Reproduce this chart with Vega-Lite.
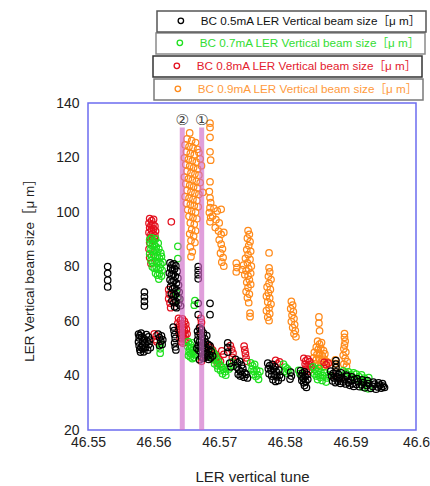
{
  "$schema": "https://vega.github.io/schema/vega-lite/v6.json",
  "width": 328,
  "height": 327,
  "autosize": {"type": "none"},
  "padding": {"left": 88, "top": 103, "right": 14, "bottom": 56},
  "background": "white",
  "config": {
    "font": "Liberation Sans, Arial, Noto Sans CJK JP",
    "view": {"stroke": "#6c6cf0", "strokeWidth": 1.5},
    "axis": {"grid": false, "domain": false, "ticks": false, "labelColor": "#222", "titleColor": "#222", "titleFontWeight": "normal", "labelFont": "Liberation Sans, Arial, Noto Sans CJK JP", "titleFont": "Liberation Sans, Arial, Noto Sans CJK JP"},
    "legend": {"title": null, "padding": 4, "symbolOffset": 14, "labelOffset": 14, "labelFontSize": 11.7, "labelFont": "Liberation Sans, Arial, Noto Sans CJK JP", "labelLimit": 400, "symbolSize": 30, "symbolStrokeWidth": 1.3, "fillColor": "white", "strokeWidth": 1.5}
  },
  "datasets": {
    "bc05": [
      {"tune":46.5530,"size":72.5},{"tune":46.5530,"size":75.0},{"tune":46.5530,"size":77.5},{"tune":46.5530,"size":80.0},
      {"tune":46.5586,"size":65.5},{"tune":46.5586,"size":67.2},{"tune":46.5586,"size":68.9},{"tune":46.5586,"size":70.6},
      {"tune":46.5577,"size":55.2},{"tune":46.5578,"size":53.8},{"tune":46.5577,"size":52.3},{"tune":46.5578,"size":50.9},{"tune":46.5579,"size":49.5},{"tune":46.5580,"size":48.6},{"tune":46.5581,"size":55.6},{"tune":46.5582,"size":54.1},{"tune":46.5583,"size":52.7},{"tune":46.5583,"size":51.2},{"tune":46.5584,"size":49.8},{"tune":46.5585,"size":48.7},{"tune":46.5586,"size":53.4},{"tune":46.5587,"size":51.9},{"tune":46.5588,"size":50.4},{"tune":46.5589,"size":55.0},{"tune":46.5590,"size":52.6},{"tune":46.5591,"size":49.3},{"tune":46.5592,"size":54.2},{"tune":46.5593,"size":51.5},{"tune":46.5594,"size":53.0},{"tune":46.5595,"size":50.2},{"tune":46.5579,"size":54.6},{"tune":46.5581,"size":50.3},
      {"tune":46.5607,"size":55.2},{"tune":46.5609,"size":53.9},{"tune":46.5611,"size":52.6},{"tune":46.5613,"size":51.4},{"tune":46.5609,"size":51.0},{"tune":46.5612,"size":54.5},{"tune":46.5614,"size":53.1},
      {"tune":46.5630,"size":57.8},{"tune":46.5631,"size":56.5},{"tune":46.5632,"size":55.0},{"tune":46.5633,"size":53.6},{"tune":46.5632,"size":52.0},{"tune":46.5633,"size":50.5},{"tune":46.5634,"size":49.4},
      {"tune":46.5625,"size":81.3},{"tune":46.5628,"size":80.6},{"tune":46.5631,"size":81.0},{"tune":46.5634,"size":80.2},{"tune":46.5626,"size":79.4},{"tune":46.5629,"size":78.7},{"tune":46.5632,"size":79.1},{"tune":46.5636,"size":78.3},{"tune":46.5624,"size":77.6},{"tune":46.5627,"size":76.8},{"tune":46.5630,"size":77.2},{"tune":46.5633,"size":76.4},{"tune":46.5637,"size":75.7},{"tune":46.5625,"size":75.1},{"tune":46.5628,"size":74.3},{"tune":46.5631,"size":74.8},{"tune":46.5635,"size":73.9},{"tune":46.5638,"size":73.2},{"tune":46.5626,"size":72.6},{"tune":46.5629,"size":71.8},{"tune":46.5632,"size":72.2},{"tune":46.5636,"size":71.3},{"tune":46.5639,"size":70.6},{"tune":46.5627,"size":70.0},{"tune":46.5630,"size":69.2},{"tune":46.5633,"size":69.7},{"tune":46.5637,"size":68.8},{"tune":46.5640,"size":68.1},{"tune":46.5628,"size":67.5},{"tune":46.5631,"size":66.7},{"tune":46.5634,"size":67.1},{"tune":46.5638,"size":66.3},{"tune":46.5641,"size":65.6},{"tune":46.5632,"size":65.2},{"tune":46.5635,"size":64.9},
      {"tune":46.5668,"size":80.0},{"tune":46.5668,"size":78.5},{"tune":46.5668,"size":77.0},{"tune":46.5668,"size":75.5},
      {"tune":46.5668,"size":66.5},{"tune":46.5668,"size":62.3},{"tune":46.5686,"size":66.5},{"tune":46.5686,"size":62.3},
      {"tune":46.5667,"size":56.2},{"tune":46.5670,"size":57.5},{"tune":46.5673,"size":56.8},{"tune":46.5676,"size":55.6},{"tune":46.5668,"size":54.8},{"tune":46.5671,"size":55.3},{"tune":46.5674,"size":54.1},{"tune":46.5678,"size":53.5},{"tune":46.5681,"size":54.6},{"tune":46.5667,"size":53.0},{"tune":46.5670,"size":52.4},{"tune":46.5673,"size":52.9},{"tune":46.5676,"size":51.8},{"tune":46.5679,"size":52.2},{"tune":46.5683,"size":51.4},{"tune":46.5668,"size":51.1},{"tune":46.5671,"size":50.5},{"tune":46.5674,"size":50.9},{"tune":46.5677,"size":49.8},{"tune":46.5680,"size":50.3},{"tune":46.5684,"size":49.6},{"tune":46.5686,"size":50.9},{"tune":46.5669,"size":49.2},{"tune":46.5672,"size":48.6},{"tune":46.5675,"size":48.9},{"tune":46.5678,"size":47.8},{"tune":46.5681,"size":48.3},{"tune":46.5685,"size":47.6},{"tune":46.5688,"size":48.8},{"tune":46.5673,"size":46.9},{"tune":46.5676,"size":46.3},{"tune":46.5680,"size":46.7},{"tune":46.5684,"size":45.9},{"tune":46.5687,"size":46.5},{"tune":46.5690,"size":47.2},{"tune":46.5666,"size":50.0},{"tune":46.5670,"size":45.8},
      {"tune":46.5713,"size":52.0},{"tune":46.5713,"size":50.3},{"tune":46.5713,"size":48.6},
      {"tune":46.5716,"size":44.5},{"tune":46.5718,"size":43.2},
      {"tune":46.5725,"size":45.9},{"tune":46.5728,"size":44.6},{"tune":46.5731,"size":45.2},{"tune":46.5734,"size":43.8},{"tune":46.5727,"size":43.0},{"tune":46.5730,"size":42.1},{"tune":46.5733,"size":41.5},{"tune":46.5736,"size":42.6},{"tune":46.5739,"size":41.0},{"tune":46.5729,"size":40.5},{"tune":46.5732,"size":39.8},{"tune":46.5735,"size":40.2},{"tune":46.5738,"size":39.4},{"tune":46.5741,"size":40.4},{"tune":46.5743,"size":39.1},
      {"tune":46.5774,"size":44.5},{"tune":46.5777,"size":43.6},{"tune":46.5781,"size":44.1},{"tune":46.5785,"size":43.2},{"tune":46.5775,"size":42.5},{"tune":46.5779,"size":41.8},{"tune":46.5783,"size":42.3},{"tune":46.5787,"size":41.4},{"tune":46.5791,"size":42.0},{"tune":46.5776,"size":40.6},{"tune":46.5780,"size":39.8},{"tune":46.5784,"size":40.3},{"tune":46.5788,"size":39.5},{"tune":46.5792,"size":40.1},{"tune":46.5795,"size":39.2},{"tune":46.5782,"size":38.4},{"tune":46.5786,"size":37.8},{"tune":46.5790,"size":38.2},
      {"tune":46.5809,"size":41.2},{"tune":46.5810,"size":39.8},{"tune":46.5808,"size":38.7},
      {"tune":46.5824,"size":41.8},{"tune":46.5827,"size":40.9},{"tune":46.5830,"size":41.3},{"tune":46.5825,"size":39.9},{"tune":46.5828,"size":39.0},{"tune":46.5831,"size":39.6},{"tune":46.5834,"size":40.4},{"tune":46.5826,"size":38.2},{"tune":46.5829,"size":37.3},{"tune":46.5832,"size":37.8},{"tune":46.5835,"size":38.6},{"tune":46.5830,"size":36.3},{"tune":46.5833,"size":35.6},
      {"tune":46.5878,"size":45.5},{"tune":46.5878,"size":44.2},{"tune":46.5878,"size":42.9},
      {"tune":46.5870,"size":41.6},{"tune":46.5874,"size":40.8},{"tune":46.5878,"size":41.3},{"tune":46.5882,"size":40.4},{"tune":46.5886,"size":41.0},{"tune":46.5871,"size":39.9},{"tune":46.5875,"size":39.1},{"tune":46.5879,"size":39.6},{"tune":46.5883,"size":38.8},{"tune":46.5887,"size":39.3},{"tune":46.5891,"size":38.5},{"tune":46.5895,"size":39.7},{"tune":46.5873,"size":38.0},{"tune":46.5877,"size":37.4},{"tune":46.5881,"size":37.9},{"tune":46.5885,"size":37.1},{"tune":46.5889,"size":37.6},{"tune":46.5893,"size":36.9},{"tune":46.5897,"size":37.5},{"tune":46.5901,"size":38.3},{"tune":46.5899,"size":36.4},{"tune":46.5903,"size":37.0},{"tune":46.5906,"size":38.6},{"tune":46.5905,"size":36.0},{"tune":46.5909,"size":36.7},{"tune":46.5912,"size":37.8},{"tune":46.5914,"size":35.9},{"tune":46.5917,"size":36.6},{"tune":46.5920,"size":37.4},{"tune":46.5922,"size":35.5},{"tune":46.5925,"size":36.3},{"tune":46.5928,"size":37.0},{"tune":46.5931,"size":35.3},{"tune":46.5934,"size":36.0},{"tune":46.5937,"size":36.8},{"tune":46.5939,"size":35.0},{"tune":46.5942,"size":35.8},{"tune":46.5945,"size":36.5},{"tune":46.5947,"size":35.4},{"tune":46.5950,"size":36.1},{"tune":46.5952,"size":35.6},{"tune":46.5949,"size":37.0},{"tune":46.5943,"size":37.3},{"tune":46.5935,"size":37.6},{"tune":46.5926,"size":38.1},{"tune":46.5918,"size":38.4},{"tune":46.5910,"size":38.9},{"tune":46.5902,"size":39.5},{"tune":46.5894,"size":40.1}
    ],
    "bc07": [
      {"tune":46.5594,"size":89.8},{"tune":46.5597,"size":90.5},{"tune":46.5600,"size":89.2},{"tune":46.5603,"size":90.1},{"tune":46.5595,"size":88.3},{"tune":46.5598,"size":87.6},{"tune":46.5601,"size":88.0},{"tune":46.5604,"size":87.2},{"tune":46.5607,"size":88.6},{"tune":46.5596,"size":86.4},{"tune":46.5599,"size":85.7},{"tune":46.5602,"size":86.1},{"tune":46.5605,"size":85.3},{"tune":46.5608,"size":86.5},{"tune":46.5611,"size":85.0},{"tune":46.5594,"size":84.6},{"tune":46.5597,"size":83.8},{"tune":46.5600,"size":84.3},{"tune":46.5603,"size":83.4},{"tune":46.5606,"size":84.0},{"tune":46.5609,"size":83.1},{"tune":46.5612,"size":83.7},{"tune":46.5596,"size":82.2},{"tune":46.5599,"size":81.5},{"tune":46.5602,"size":82.0},{"tune":46.5605,"size":81.2},{"tune":46.5608,"size":81.8},{"tune":46.5611,"size":80.9},{"tune":46.5614,"size":81.6},{"tune":46.5598,"size":79.9},{"tune":46.5601,"size":79.3},{"tune":46.5604,"size":79.8},{"tune":46.5607,"size":78.9},{"tune":46.5610,"size":79.5},{"tune":46.5613,"size":78.6},{"tune":46.5603,"size":77.5},{"tune":46.5606,"size":76.8},{"tune":46.5609,"size":77.3},{"tune":46.5612,"size":76.5},{"tune":46.5608,"size":75.4},
      {"tune":46.5637,"size":87.4},{"tune":46.5637,"size":82.9},
      {"tune":46.5635,"size":70.2},{"tune":46.5638,"size":67.8},
      {"tune":46.5663,"size":67.5},{"tune":46.5662,"size":65.8},
      {"tune":46.5610,"size":51.5},{"tune":46.5610,"size":49.8},{"tune":46.5610,"size":48.2},
      {"tune":46.5653,"size":52.4},{"tune":46.5656,"size":51.3},{"tune":46.5659,"size":52.0},{"tune":46.5652,"size":50.6},{"tune":46.5655,"size":49.8},{"tune":46.5658,"size":50.2},{"tune":46.5661,"size":49.4},{"tune":46.5654,"size":48.7},{"tune":46.5657,"size":48.0},{"tune":46.5660,"size":48.4},{"tune":46.5663,"size":47.6},{"tune":46.5656,"size":46.8},{"tune":46.5659,"size":46.2},{"tune":46.5662,"size":46.6},{"tune":46.5665,"size":47.9},{"tune":46.5653,"size":47.3},
      {"tune":46.5688,"size":49.2},{"tune":46.5691,"size":48.3},{"tune":46.5694,"size":47.5},{"tune":46.5689,"size":46.6},{"tune":46.5692,"size":45.8},{"tune":46.5696,"size":46.2},{"tune":46.5699,"size":45.1},{"tune":46.5693,"size":44.3},{"tune":46.5697,"size":43.6},{"tune":46.5701,"size":44.0},{"tune":46.5704,"size":43.2},{"tune":46.5698,"size":42.5},{"tune":46.5702,"size":41.8},{"tune":46.5706,"size":42.2},{"tune":46.5709,"size":41.4},{"tune":46.5712,"size":43.0},{"tune":46.5715,"size":42.4},{"tune":46.5705,"size":40.6},{"tune":46.5710,"size":40.1},
      {"tune":46.5719,"size":44.8},{"tune":46.5721,"size":43.6},{"tune":46.5748,"size":44.6},{"tune":46.5751,"size":43.5},{"tune":46.5754,"size":44.1},{"tune":46.5750,"size":42.3},{"tune":46.5753,"size":41.6},{"tune":46.5757,"size":42.0},{"tune":46.5752,"size":40.4},{"tune":46.5756,"size":39.6},{"tune":46.5759,"size":40.2},{"tune":46.5762,"size":41.5},{"tune":46.5760,"size":38.6},
      {"tune":46.5798,"size":44.2},{"tune":46.5801,"size":43.1},{"tune":46.5804,"size":42.4},{"tune":46.5799,"size":41.5},{"tune":46.5803,"size":40.9},{"tune":46.5806,"size":41.8},
      {"tune":46.5821,"size":41.9},{"tune":46.5823,"size":40.7},{"tune":46.5826,"size":39.6},
      {"tune":46.5843,"size":43.2},{"tune":46.5846,"size":42.3},{"tune":46.5849,"size":41.5},{"tune":46.5852,"size":42.6},{"tune":46.5855,"size":41.2},{"tune":46.5845,"size":40.6},{"tune":46.5848,"size":39.8},{"tune":46.5851,"size":40.3},{"tune":46.5854,"size":39.4},{"tune":46.5858,"size":40.0},{"tune":46.5861,"size":41.0},{"tune":46.5864,"size":39.1},{"tune":46.5850,"size":38.5},{"tune":46.5857,"size":38.2},{"tune":46.5863,"size":37.6},{"tune":46.5867,"size":40.3},
      {"tune":46.5889,"size":41.7},{"tune":46.5893,"size":40.9},{"tune":46.5897,"size":41.3},{"tune":46.5901,"size":40.2},{"tune":46.5905,"size":41.0},{"tune":46.5909,"size":40.5},{"tune":46.5913,"size":39.6},{"tune":46.5917,"size":40.2},{"tune":46.5921,"size":39.0},{"tune":46.5907,"size":38.7},{"tune":46.5916,"size":37.9},{"tune":46.5924,"size":38.0},{"tune":46.5928,"size":39.2},{"tune":46.5919,"size":35.8},{"tune":46.5927,"size":35.1}
    ],
    "bc08": [
      {"tune":46.5594,"size":97.6},{"tune":46.5597,"size":96.8},{"tune":46.5600,"size":97.3},{"tune":46.5593,"size":95.9},{"tune":46.5596,"size":95.1},{"tune":46.5599,"size":95.5},{"tune":46.5602,"size":94.8},{"tune":46.5594,"size":94.2},{"tune":46.5597,"size":93.4},{"tune":46.5600,"size":93.8},{"tune":46.5603,"size":93.0},{"tune":46.5593,"size":92.5},{"tune":46.5596,"size":91.7},{"tune":46.5599,"size":92.1},{"tune":46.5602,"size":91.3},{"tune":46.5595,"size":90.6},{"tune":46.5598,"size":89.8},{"tune":46.5601,"size":90.2},{"tune":46.5594,"size":88.8},{"tune":46.5593,"size":86.4},{"tune":46.5594,"size":83.3},{"tune":46.5596,"size":81.1},
      {"tune":46.5627,"size":96.4},
      {"tune":46.5623,"size":71.5},{"tune":46.5624,"size":69.9},{"tune":46.5623,"size":68.2},{"tune":46.5625,"size":66.6},{"tune":46.5626,"size":64.9},
      {"tune":46.5638,"size":61.0},{"tune":46.5641,"size":60.3},{"tune":46.5644,"size":60.8},{"tune":46.5647,"size":59.9},{"tune":46.5637,"size":59.2},{"tune":46.5640,"size":58.6},{"tune":46.5643,"size":59.0},{"tune":46.5646,"size":58.2},{"tune":46.5649,"size":58.8},{"tune":46.5638,"size":57.5},{"tune":46.5641,"size":56.9},{"tune":46.5644,"size":57.3},{"tune":46.5647,"size":56.5},{"tune":46.5650,"size":57.0},{"tune":46.5639,"size":55.8},{"tune":46.5642,"size":55.2},{"tune":46.5645,"size":55.6},{"tune":46.5648,"size":54.8},{"tune":46.5651,"size":55.3},{"tune":46.5640,"size":54.1},{"tune":46.5643,"size":53.5},{"tune":46.5646,"size":53.9},{"tune":46.5649,"size":53.1},{"tune":46.5642,"size":52.4},{"tune":46.5645,"size":51.8},{"tune":46.5648,"size":52.2},
      {"tune":46.5601,"size":55.3},{"tune":46.5604,"size":54.5},{"tune":46.5602,"size":53.2},{"tune":46.5605,"size":52.4},
      {"tune":46.5672,"size":61.0},{"tune":46.5673,"size":59.5},{"tune":46.5672,"size":58.0},{"tune":46.5673,"size":56.5},{"tune":46.5672,"size":55.0},{"tune":46.5673,"size":46.5},{"tune":46.5673,"size":45.2},
      {"tune":46.5684,"size":51.0},{"tune":46.5687,"size":50.2},{"tune":46.5690,"size":49.3},{"tune":46.5686,"size":48.4},{"tune":46.5689,"size":47.6},{"tune":46.5693,"size":48.0},{"tune":46.5696,"size":47.1},{"tune":46.5692,"size":46.3},{"tune":46.5695,"size":45.5},{"tune":46.5699,"size":46.0},{"tune":46.5702,"size":45.2},{"tune":46.5698,"size":44.4},{"tune":46.5704,"size":49.0},{"tune":46.5707,"size":47.8},
      {"tune":46.5717,"size":51.0},{"tune":46.5719,"size":49.6},{"tune":46.5721,"size":48.2},{"tune":46.5720,"size":46.7},{"tune":46.5722,"size":45.3},
      {"tune":46.5738,"size":50.8},{"tune":46.5739,"size":49.4},{"tune":46.5740,"size":48.0},{"tune":46.5741,"size":46.5},{"tune":46.5742,"size":45.2},
      {"tune":46.5786,"size":45.6},{"tune":46.5789,"size":44.3},{"tune":46.5792,"size":45.0},
      {"tune":46.5829,"size":46.3},{"tune":46.5832,"size":45.4},{"tune":46.5835,"size":46.0},{"tune":46.5838,"size":45.1},{"tune":46.5831,"size":44.2},{"tune":46.5834,"size":43.5},{"tune":46.5837,"size":44.0},{"tune":46.5840,"size":43.2},{"tune":46.5833,"size":42.3},{"tune":46.5836,"size":41.6},{"tune":46.5839,"size":42.1},
      {"tune":46.5860,"size":44.8},{"tune":46.5863,"size":44.0},{"tune":46.5866,"size":44.5},
      {"tune":46.5872,"size":40.0},{"tune":46.5884,"size":39.0}
    ],
    "bc09": [
      {"tune":46.5655,"size":129.0},{"tune":46.5651,"size":126.8},{"tune":46.5658,"size":126.2},{"tune":46.5664,"size":125.5},{"tune":46.5648,"size":124.6},{"tune":46.5654,"size":124.0},{"tune":46.5660,"size":123.6},{"tune":46.5667,"size":123.0},{"tune":46.5650,"size":122.1},{"tune":46.5656,"size":121.5},{"tune":46.5662,"size":121.0},{"tune":46.5669,"size":121.8},{"tune":46.5647,"size":119.9},{"tune":46.5653,"size":119.3},{"tune":46.5659,"size":118.8},{"tune":46.5665,"size":118.3},{"tune":46.5671,"size":119.5},{"tune":46.5649,"size":117.4},{"tune":46.5655,"size":116.8},{"tune":46.5661,"size":116.3},{"tune":46.5667,"size":115.8},{"tune":46.5673,"size":117.0},{"tune":46.5651,"size":115.0},{"tune":46.5657,"size":114.4},{"tune":46.5663,"size":113.9},{"tune":46.5669,"size":113.5},{"tune":46.5647,"size":112.8},{"tune":46.5653,"size":112.2},{"tune":46.5659,"size":111.7},{"tune":46.5665,"size":111.2},{"tune":46.5671,"size":110.8},{"tune":46.5649,"size":110.3},{"tune":46.5655,"size":109.8},{"tune":46.5661,"size":109.3},{"tune":46.5667,"size":108.8},{"tune":46.5651,"size":107.9},{"tune":46.5657,"size":107.4},{"tune":46.5663,"size":106.9},{"tune":46.5669,"size":106.5},{"tune":46.5675,"size":107.2},{"tune":46.5648,"size":105.6},{"tune":46.5654,"size":105.1},{"tune":46.5660,"size":104.6},{"tune":46.5666,"size":104.2},{"tune":46.5650,"size":103.2},{"tune":46.5656,"size":102.7},{"tune":46.5662,"size":102.3},{"tune":46.5668,"size":101.9},{"tune":46.5652,"size":100.8},{"tune":46.5658,"size":100.3},{"tune":46.5664,"size":99.9},{"tune":46.5654,"size":98.4},{"tune":46.5660,"size":97.9},{"tune":46.5666,"size":97.5},{"tune":46.5656,"size":96.0},{"tune":46.5662,"size":95.5},{"tune":46.5658,"size":93.6},{"tune":46.5664,"size":93.1},{"tune":46.5655,"size":92.0},{"tune":46.5661,"size":91.2},{"tune":46.5657,"size":89.5},{"tune":46.5663,"size":88.8},{"tune":46.5656,"size":87.2},{"tune":46.5659,"size":85.4},{"tune":46.5657,"size":83.6},
      {"tune":46.5686,"size":132.6},{"tune":46.5686,"size":131.0},{"tune":46.5686,"size":127.4},{"tune":46.5686,"size":122.1},{"tune":46.5687,"size":119.0},{"tune":46.5686,"size":111.1},{"tune":46.5685,"size":107.5},{"tune":46.5686,"size":105.2},{"tune":46.5687,"size":103.4},{"tune":46.5686,"size":101.6},{"tune":46.5685,"size":99.8},{"tune":46.5687,"size":98.0},{"tune":46.5686,"size":96.4},
      {"tune":46.5692,"size":101.3},{"tune":46.5697,"size":100.4},{"tune":46.5703,"size":101.0},{"tune":46.5690,"size":98.5},{"tune":46.5695,"size":97.2},{"tune":46.5700,"size":96.0},{"tune":46.5694,"size":94.3},{"tune":46.5699,"size":93.0},{"tune":46.5703,"size":91.8},{"tune":46.5707,"size":92.5},
      {"tune":46.5700,"size":89.8},{"tune":46.5703,"size":88.2},{"tune":46.5705,"size":86.5},{"tune":46.5702,"size":84.9},{"tune":46.5706,"size":83.3},{"tune":46.5704,"size":81.6},{"tune":46.5707,"size":80.1},
      {"tune":46.5726,"size":81.2},{"tune":46.5727,"size":79.6},{"tune":46.5726,"size":78.0},
      {"tune":46.5744,"size":93.2},{"tune":46.5746,"size":91.8},{"tune":46.5743,"size":90.4},{"tune":46.5747,"size":89.1},{"tune":46.5745,"size":87.7},{"tune":46.5742,"size":86.2},{"tune":46.5748,"size":85.6},{"tune":46.5744,"size":84.4},{"tune":46.5740,"size":83.0},{"tune":46.5747,"size":82.6},{"tune":46.5743,"size":81.3},{"tune":46.5737,"size":80.5},{"tune":46.5749,"size":80.1},{"tune":46.5745,"size":79.2},{"tune":46.5741,"size":78.4},{"tune":46.5735,"size":78.9},{"tune":46.5748,"size":77.5},{"tune":46.5744,"size":76.6},{"tune":46.5739,"size":77.0},{"tune":46.5746,"size":75.1},{"tune":46.5742,"size":74.2},{"tune":46.5748,"size":73.4},{"tune":46.5744,"size":72.3},{"tune":46.5741,"size":70.8},{"tune":46.5746,"size":69.9},{"tune":46.5743,"size":68.5},{"tune":46.5745,"size":66.7},{"tune":46.5747,"size":62.9},{"tune":46.5747,"size":61.6},
      {"tune":46.5776,"size":85.0},{"tune":46.5776,"size":79.5},{"tune":46.5777,"size":78.0},{"tune":46.5775,"size":76.4},{"tune":46.5779,"size":75.2},{"tune":46.5776,"size":73.8},{"tune":46.5773,"size":72.5},{"tune":46.5778,"size":71.6},{"tune":46.5775,"size":70.3},{"tune":46.5772,"size":69.1},{"tune":46.5777,"size":68.4},{"tune":46.5774,"size":67.0},{"tune":46.5779,"size":66.2},{"tune":46.5776,"size":64.8},{"tune":46.5772,"size":63.8},{"tune":46.5777,"size":62.7},{"tune":46.5774,"size":61.4},{"tune":46.5776,"size":60.1},
      {"tune":46.5810,"size":67.2},{"tune":46.5812,"size":65.8},{"tune":46.5809,"size":64.5},{"tune":46.5813,"size":63.4},{"tune":46.5811,"size":62.1},{"tune":46.5814,"size":60.9},{"tune":46.5810,"size":59.8},{"tune":46.5815,"size":58.7},{"tune":46.5812,"size":57.6},{"tune":46.5816,"size":56.5},{"tune":46.5814,"size":55.3},{"tune":46.5817,"size":54.2},
      {"tune":46.5852,"size":61.5},{"tune":46.5852,"size":59.2},{"tune":46.5853,"size":56.4},
      {"tune":46.5850,"size":52.6},{"tune":46.5853,"size":51.5},{"tune":46.5856,"size":52.1},{"tune":46.5848,"size":50.4},{"tune":46.5851,"size":49.6},{"tune":46.5855,"size":50.0},{"tune":46.5859,"size":49.1},{"tune":46.5845,"size":48.5},{"tune":46.5849,"size":47.7},{"tune":46.5853,"size":48.1},{"tune":46.5857,"size":47.3},{"tune":46.5861,"size":47.9},{"tune":46.5844,"size":46.5},{"tune":46.5848,"size":45.8},{"tune":46.5852,"size":46.2},{"tune":46.5856,"size":45.4},{"tune":46.5860,"size":46.0},{"tune":46.5864,"size":45.1},{"tune":46.5847,"size":44.3},{"tune":46.5851,"size":43.6},{"tune":46.5855,"size":44.0},{"tune":46.5859,"size":43.2},{"tune":46.5863,"size":43.8},{"tune":46.5867,"size":44.6},
      {"tune":46.5891,"size":55.4},{"tune":46.5891,"size":54.0},{"tune":46.5892,"size":52.6},{"tune":46.5891,"size":51.2},{"tune":46.5890,"size":49.8},{"tune":46.5893,"size":48.6},{"tune":46.5889,"size":47.4},{"tune":46.5892,"size":46.3},{"tune":46.5895,"size":45.1},{"tune":46.5890,"size":44.2},{"tune":46.5894,"size":43.4},
      {"tune":46.5877,"size":45.7},{"tune":46.5877,"size":44.4},{"tune":46.5878,"size":43.1}
    ],
    "markers": [
      {"tune":46.56437,"size":131,"label":"②"},
      {"tune":46.56733,"size":131,"label":"①"}
    ]
  },
  "encoding": {
    "x": {
      "field": "tune", "type": "quantitative", "title": "LER vertical tune",
      "scale": {"domain": [46.55, 46.6], "nice": false, "zero": false},
      "axis": {"values": [46.55, 46.56, 46.57, 46.58, 46.59, 46.6], "format": "~f", "labelFlush": false, "labelFontSize": 14, "labelPadding": 5, "titleFontSize": 15, "titlePadding": 20}
    },
    "y": {
      "field": "size", "type": "quantitative", "title": "LER Vertical beam size［μ m］",
      "scale": {"domain": [20, 140], "nice": false, "zero": false},
      "axis": {"values": [20, 40, 60, 80, 100, 120, 140], "labelFontSize": 14, "labelPadding": 9, "titleFontSize": 13.5, "titlePadding": 19}
    }
  },
  "layer": [
    {
      "data": {"name": "bc09"},
      "mark": {"type": "point", "filled": false, "size": 42, "strokeWidth": 1.25, "opacity": 1},
      "encoding": {
        "color": {"datum": "BC 0.9mA LER Vertical beam size［μ m］", "scale": {"range": ["#ff8a1a"]},
          "legend": {"orient": "none", "legendX": 66, "legendY": -24, "labelColor": "#ff9a3c", "strokeColor": "#7a7a7a"}}
      }
    },
    {
      "data": {"name": "bc08"},
      "mark": {"type": "point", "filled": false, "size": 42, "strokeWidth": 1.25, "opacity": 1},
      "encoding": {
        "color": {"datum": "BC 0.8mA LER Vertical beam size［μ m］", "scale": {"range": ["#e3101e"]},
          "legend": {"orient": "none", "legendX": 65, "legendY": -47, "labelColor": "#e3202e", "strokeColor": "#333333"}}
      }
    },
    {
      "data": {"name": "bc07"},
      "mark": {"type": "point", "filled": false, "size": 42, "strokeWidth": 1.25, "opacity": 1},
      "encoding": {
        "color": {"datum": "BC 0.7mA LER Vertical beam size［μ m］", "scale": {"range": ["#1ee01e"]},
          "legend": {"orient": "none", "legendX": 68, "legendY": -70, "labelColor": "#33dd33", "strokeColor": "#8a8a8a"}}
      }
    },
    {
      "data": {"name": "bc05"},
      "mark": {"type": "point", "filled": false, "size": 42, "strokeWidth": 1.25, "opacity": 1},
      "encoding": {
        "color": {"datum": "BC 0.5mA LER Vertical beam size［μ m］", "scale": {"range": ["#000000"]},
          "legend": {"orient": "none", "legendX": 69, "legendY": -92, "labelColor": "#111111", "strokeColor": "#555555"}}
      }
    },
    {
      "data": {"name": "markers"},
      "mark": {"type": "rule", "color": "#d06cc8", "strokeWidth": 5, "opacity": 0.65},
      "encoding": {"y2": {"datum": 20}}
    },
    {
      "data": {"name": "markers"},
      "mark": {"type": "text", "font": "DejaVu Sans", "fontSize": 15, "color": "#444444", "dy": -8, "baseline": "middle"},
      "encoding": {"text": {"field": "label"}}
    }
  ],
  "resolve": {"scale": {"color": "independent"}, "legend": {"color": "independent"}}
}
